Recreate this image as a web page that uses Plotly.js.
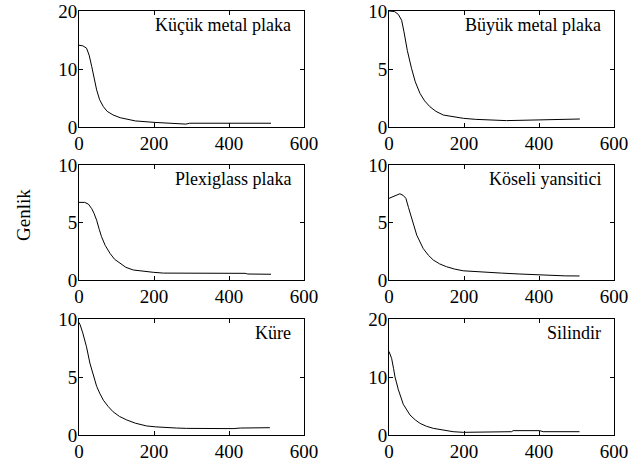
<!DOCTYPE html>
<html>
<head>
<meta charset="utf-8">
<script src="https://cdn.plot.ly/plotly-3.0.1.min.js"></script>
<style>html,body{margin:0;padding:0;background:#fff;}#chart{width:642px;height:463px;}</style>
</head>
<body>
<div id="chart"></div>
<script>
// Panel titles
const panelNames = ["Küçük metal plaka", "Büyük metal plaka", "Plexiglass plaka", "Köseli yansitici", "Küre", "Silindir"];
const yMax = [20, 10, 10, 10, 10, 20];
const yTicks = [[0, 10, 20], [0, 5, 10], [0, 5, 10], [0, 5, 10], [0, 5, 10], [0, 10, 20]];
const xTicks = [0, 200, 400, 600];

// Series values
const x1 = [0, 10, 20, 27, 34, 40, 47, 55, 65, 75, 91, 110, 127, 150, 200, 230, 260, 285, 295, 350, 400, 450, 512];
const y1 = [14.1, 14.0, 13.6, 12.4, 10.4, 8.5, 6.4, 4.7, 3.5, 2.7, 2.07, 1.6, 1.38, 1.05, 0.8, 0.65, 0.52, 0.5, 0.65, 0.65, 0.65, 0.65, 0.65];

const x2 = [0, 15, 25, 33.7, 40, 48.8, 60, 70, 82.6, 95, 109, 125, 145, 170, 198, 230, 260, 313, 384, 450, 509];
const y2 = [10, 9.95, 9.7, 9.2, 8.2, 6.6, 5.06, 3.9, 2.9, 2.25, 1.75, 1.35, 1.03, 0.87, 0.75, 0.66, 0.6, 0.55, 0.6, 0.64, 0.69];

const x3 = [0, 15, 25, 34, 40, 47, 54, 60, 70, 83, 95, 109, 125, 145, 170, 198, 225, 300, 443, 450, 512];
const y3 = [6.75, 6.75, 6.6, 6.2, 5.8, 5.2, 4.4, 3.77, 3.0, 2.3, 1.8, 1.45, 1.1, 0.87, 0.75, 0.67, 0.6, 0.6, 0.58, 0.52, 0.5];

const x4 = [0, 15, 29, 38, 45, 52, 60, 74, 91, 105, 118, 135, 153, 175, 198, 230, 260, 300, 349, 400, 437, 470, 508];
const y4 = [7.1, 7.3, 7.5, 7.35, 7.1, 6.3, 5.36, 3.9, 2.75, 2.15, 1.74, 1.4, 1.16, 0.95, 0.8, 0.72, 0.67, 0.6, 0.52, 0.45, 0.38, 0.36, 0.35];

const x5 = [0, 3, 10, 20, 29, 38, 47, 56, 65, 78, 91, 108, 127, 150, 180, 205, 234, 260, 287, 350, 411, 430, 509];
const y5 = [9.7, 9.5, 8.8, 7.6, 6.2, 5.1, 4.2, 3.55, 3.0, 2.45, 2.0, 1.6, 1.3, 1.02, 0.78, 0.7, 0.63, 0.6, 0.57, 0.55, 0.55, 0.6, 0.63];

const x6 = [0, 7, 12, 16, 25, 38, 56, 70, 83, 100, 118, 145, 171, 198, 260, 327, 331, 402, 411, 460, 508];
const y6 = [14.4, 13.2, 11.5, 10, 7.8, 5.3, 3.45, 2.6, 2.0, 1.5, 1.15, 0.8, 0.57, 0.46, 0.5, 0.57, 0.75, 0.75, 0.57, 0.57, 0.57];

const xs = [x1, x2, x3, x4, x5, x6];
const ys = [y1, y2, y3, y4, y5, y6];

const W = 642, H = 463;
const colPx = [[79, 304], [389, 614]];
const rowPx = [[11, 127], [165, 280], [319, 435]];
function mkFont(size) { return {family: "Liberation Serif", size: size, color: "#000000"}; }

const data = [];
const layout = {
  width: W, height: H,
  margin: {l: 0, r: 0, t: 0, b: 0},
  paper_bgcolor: "#ffffff", plot_bgcolor: "#ffffff",
  showlegend: false,
  font: mkFont(18),
  annotations: []
};

for (let i = 0; i < 6; i++) {
  const r = Math.floor(i / 2), c = i % 2;
  const sfx = i === 0 ? "" : String(i + 1);
  data.push({
    x: xs[i], y: ys[i], type: "scatter", mode: "lines",
    line: {color: "#000000", width: 1},
    xaxis: "x" + sfx, yaxis: "y" + sfx, hoverinfo: "skip"
  });
  const axCommon = () => ({
    showline: true, mirror: "ticks", linecolor: "#000000", linewidth: 1,
    ticks: "inside", ticklen: 4, tickwidth: 1, tickcolor: "#000000",
    showgrid: false, zeroline: false, tickfont: mkFont(19), automargin: false,
    tickmode: "array"
  });
  layout["xaxis" + sfx] = Object.assign(axCommon(), {
    domain: [colPx[c][0] / W, colPx[c][1] / W],
    range: [0, 600], tickvals: xTicks, ticktext: xTicks.map(String),
    anchor: "y" + sfx, ticklabelstandoff: -1
  });
  layout["yaxis" + sfx] = Object.assign(axCommon(), {
    domain: [1 - rowPx[r][1] / H, 1 - rowPx[r][0] / H],
    range: [0, yMax[i]], tickvals: yTicks[i], ticktext: yTicks[i].map(String),
    anchor: "x" + sfx, ticklabelstandoff: -3
  });
  layout.annotations.push({
    text: panelNames[i], xref: "x" + sfx + " domain", yref: "y" + sfx + " domain",
    x: 0.95, y: 0.88, xanchor: "right", yanchor: "middle",
    showarrow: false, font: mkFont(18)
  });
}
layout.annotations.push({
  text: "Genlik", xref: "paper", yref: "paper",
  x: 24 / W, y: 1 - 215 / H, textangle: -90,
  xanchor: "center", yanchor: "middle", showarrow: false, font: mkFont(19)
});

Plotly.newPlot("chart", data, layout, {displayModeBar: false, staticPlot: true});
</script>
</body>
</html>
